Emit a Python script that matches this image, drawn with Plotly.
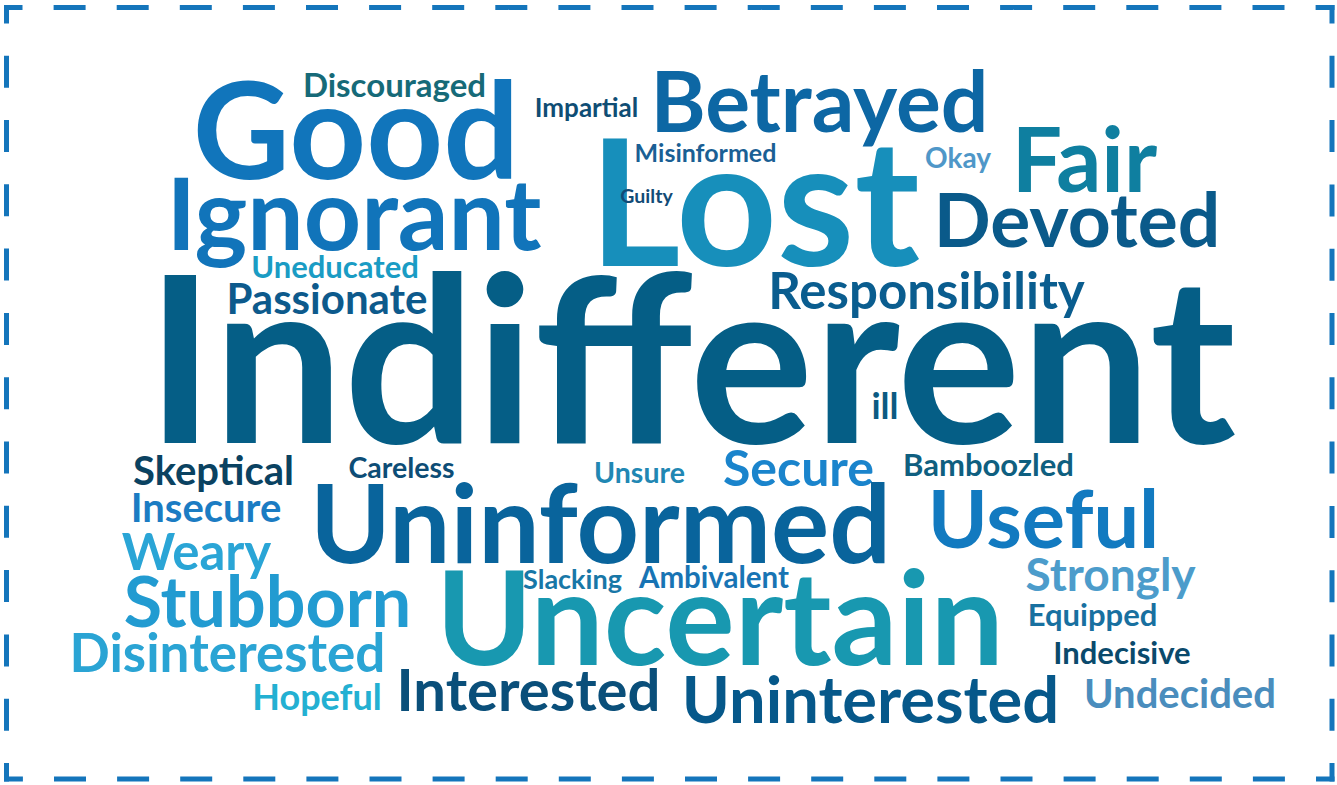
import plotly.graph_objects as go

# Word cloud data: word, placement (pixel centre of capitals), font size and colour
words = ["Indifferent", "Good", "Ignorant", "Lost", "Betrayed", "Fair", "Devoted",
         "Responsibility", "Discouraged", "Impartial", "Misinformed", "Guilty", "Okay",
         "Uneducated", "Passionate", "ill", "Skeptical", "Careless", "Unsure", "Secure",
         "Bamboozled", "Insecure", "Uninformed", "Useful", "Weary", "Slacking",
         "Ambivalent", "Strongly", "Stubborn", "Uncertain", "Equipped", "Disinterested",
         "Indecisive", "Hopeful", "Interested", "Uninterested", "Undecided"]

x_pos = [691, 356, 354, 754.5, 819.5, 1084.5, 1077,
         926.5, 394.5, 586.5, 705.5, 646.5, 958,
         335, 327, 885, 213.5, 401.5, 639.5, 798.5,
         988.5, 206, 600.5, 1043.5, 196.5, 572.5,
         714, 1110.5, 267.5, 720, 1092.5, 227.5,
         1122, 317, 528.5, 870.5, 1180]

y_pos = [360.5, 131.5, 214, 204, 102, 160, 220,
         291, 85, 107.5, 153.5, 196.5, 158.5,
         266.5, 299, 406.5, 470.5, 467.5, 472.5, 468.5,
         465, 508, 524.5, 519, 551.5, 579,
         577.5, 575, 602.5, 619, 615, 653.5,
         653, 697.5, 690, 699.5, 693.5]

font_sizes = [232, 134, 100, 176, 84, 89, 75,
              51, 33, 26, 25, 19.5, 28,
              31, 42, 36, 40, 28.5, 28.5, 50,
              31, 40, 109, 81, 51, 27,
              29.5, 46, 70, 130, 31, 53,
              31, 36, 58, 65, 40]

colors = ["#055e86", "#1175bb", "#1174ba", "#178fbb", "#0d67a4", "#0f7fa0", "#0a5a8a",
          "#0a5d8f", "#166a78", "#0f4d74", "#1a5f94", "#124b76", "#4f97c8",
          "#1a9cc4", "#0d5a8c", "#0c5a82", "#0a4261", "#0d4d76", "#2187b3", "#1a84cc",
          "#0f5f80", "#1b7cc3", "#09649c", "#127ac0", "#2aa5d6", "#1877a7",
          "#1874b4", "#4c9ccb", "#229bd1", "#1898b0", "#1870a0", "#2aa4d4",
          "#0a4a6c", "#23b0d2", "#0a4f7a", "#06588a", "#4a8dbd"]

W, H = 1337, 785
border_color = "#1475bb"
FONT = "Lato"
WEIGHT = 700

# plotly's "middle" anchor sits a little above the capital-letter centre
y_anchor = [y + 0.105 * s for y, s in zip(y_pos, font_sizes)]

fig = go.Figure(go.Scatter(
    x=x_pos, y=y_anchor, text=words, mode="text",
    textposition="middle center",
    textfont=dict(family=FONT, size=font_sizes, color=colors, weight=WEIGHT),
    hoverinfo="skip", showlegend=False,
))

# dashed frame, dashes centred on the corners
x0, x1, y0, y1 = 6.5, 1332, 7.5, 779
ext = 2.5
h_dash = "18.5px,31.1px,13.5px,0px"
v_dash = "18.5px,32.3px,13.5px,0px"
sides = [
    (x0 - ext, y0, x1 + ext, y0, h_dash),
    (x1, y0 - ext, x1, y1 + ext, v_dash),
    (x1 + ext, y1, x0 - ext, y1, h_dash),
    (x0, y1 + ext, x0, y0 - ext, v_dash),
]
for sx0, sy0, sx1, sy1, d in sides:
    fig.add_shape(type="line", x0=sx0, y0=sy0, x1=sx1, y1=sy1, xref="x", yref="y",
                  line=dict(color=border_color, width=5, dash=d))

fig.update_layout(
    width=W, height=H, autosize=False,
    margin=dict(l=0, r=0, t=0, b=0),
    paper_bgcolor="white", plot_bgcolor="white",
    xaxis=dict(range=[0, W], visible=False, fixedrange=True),
    yaxis=dict(range=[H, 0], visible=False, fixedrange=True),
)

fig.write_html(
    "out.html",
    config={"displayModeBar": False},
    post_script="document.body.style.margin='0';document.body.style.overflow='hidden';",
)
